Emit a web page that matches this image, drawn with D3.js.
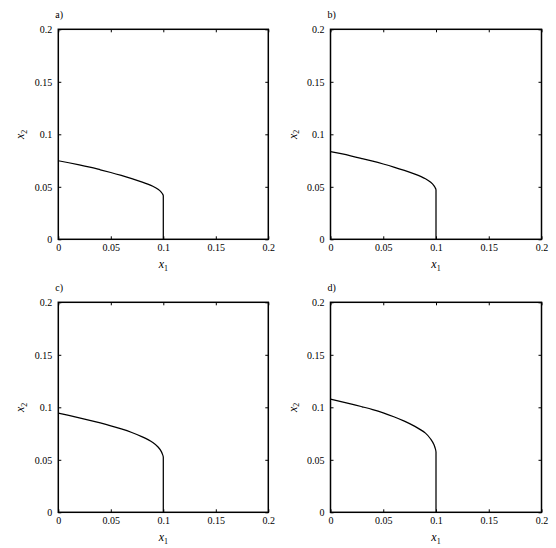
<!DOCTYPE html>
<html>
<head>
<meta charset="utf-8">
<script src="https://cdn.jsdelivr.net/npm/d3@7"></script>
<style>
  body { margin: 0; background: #fff; }
  svg { display: block; }
  text { font-family: "Liberation Serif", "DejaVu Serif", serif; fill: #000; }
</style>
</head>
<body>
<div id="chart"></div>
<script>
// data
const panelLabels = ["a)", "b)", "c)", "d)"]
const tickValues = [0, 0.05, 0.1, 0.15, 0.2]
const x1Values = [0, 0.01, 0.02, 0.03, 0.04, 0.05, 0.06, 0.07, 0.08, 0.09, 0.095, 0.098, 0.099, 0.1]
const x2A = [0.0748, 0.0729, 0.0709, 0.0687, 0.0662, 0.0636, 0.0608, 0.0578, 0.0545, 0.0505, 0.0476, 0.0450, 0.0436, 0.0415]
const x2B = [0.0835, 0.0815, 0.0793, 0.0769, 0.0744, 0.0717, 0.0688, 0.0656, 0.0620, 0.0576, 0.0543, 0.0512, 0.0495, 0.0470]
const x2C = [0.0945, 0.0923, 0.0900, 0.0876, 0.0851, 0.0824, 0.0794, 0.0760, 0.0718, 0.0665, 0.0622, 0.0580, 0.0558, 0.0525]
const x2D = [0.1078, 0.1055, 0.1031, 0.1005, 0.0978, 0.0947, 0.0910, 0.0868, 0.0818, 0.0754, 0.0697, 0.0645, 0.0617, 0.0575]
const series = [x2A, x2B, x2C, x2D]

const width = 556
const height = 548

// frame position of each panel
const layout = [
  { left: 58.3, top: 29.3, w: 210, h: 210 },
  { left: 330.5, top: 29.3, w: 211, h: 210 },
  { left: 58.3, top: 302.3, w: 210, h: 210 },
  { left: 330.5, top: 302.3, w: 211, h: 210 }
]

const svg = d3.select('#chart')
  .append('svg')
  .attr('width', width)
  .attr('height', height)

const fmt = d => String(d)

const drawPanel = function (i) {
  const p = layout[i]
  const g = svg.append('g')
    .attr('transform', 'translate(' + p.left + ',' + p.top + ')')

  const xScale = d3.scaleLinear().domain([0, 0.2]).range([0, p.w])
  const yScale = d3.scaleLinear().domain([0, 0.2]).range([p.h, 0])

  // bottom and left axes with labels, ticks pointing inward
  g.append('g')
    .attr('transform', 'translate(0,' + p.h + ')')
    .call(d3.axisBottom(xScale).tickValues(tickValues).tickFormat(fmt)
      .tickSizeInner(-3).tickSizeOuter(0).tickPadding(5))
  g.append('g')
    .call(d3.axisLeft(yScale).tickValues(tickValues).tickFormat(fmt)
      .tickSizeInner(-3).tickSizeOuter(0).tickPadding(6))
  // mirrored ticks on top and right
  g.append('g')
    .call(d3.axisTop(xScale).tickValues(tickValues).tickFormat('')
      .tickSizeInner(-3).tickSizeOuter(0))
  g.append('g')
    .attr('transform', 'translate(' + p.w + ',0)')
    .call(d3.axisRight(yScale).tickValues(tickValues).tickFormat('')
      .tickSizeInner(-3).tickSizeOuter(0))

  g.selectAll('.domain').remove()
  g.selectAll('g').attr('font-family', null)
  g.selectAll('.tick line').attr('stroke', '#000').attr('stroke-width', 1)
  g.selectAll('.tick text')
    .style('font-size', '10px')
    .attr('fill', '#000')

  // frame
  g.append('rect')
    .attr('x', 0).attr('y', 0)
    .attr('width', p.w).attr('height', p.h)
    .attr('fill', 'none')
    .attr('stroke', '#000')
    .attr('stroke-width', 1.5)

  // curve, ending in the vertical drop to x2 = 0
  // (monotone in x2, so the bend into the drop gets a vertical tangent)
  const pts = x1Values.map((x, k) => [x, series[i][k]])
  const last = pts[pts.length - 1]
  pts.push([last[0], 0])
  const line = d3.line()
    .x(d => xScale(d[0]))
    .y(d => yScale(d[1]))
    .curve(d3.curveMonotoneY)
  g.append('path')
    .datum(pts)
    .attr('d', line)
    .attr('fill', 'none')
    .attr('stroke', '#000')
    .attr('stroke-width', 1.25)

  // axis titles
  const xt = g.append('text')
    .attr('x', p.w / 2)
    .attr('y', p.h + 29)
    .attr('text-anchor', 'middle')
    .style('font-size', '12px')
  xt.append('tspan').style('font-style', 'italic').text('x')
  xt.append('tspan').attr('dy', 2.5).style('font-size', '8px').text('1')

  const yt = g.append('text')
    .attr('transform', 'translate(' + (-34) + ',' + (p.h / 2) + ') rotate(-90)')
    .attr('text-anchor', 'middle')
    .style('font-size', '12px')
  yt.append('tspan').style('font-style', 'italic').text('x')
  yt.append('tspan').attr('dy', 2.5).style('font-size', '8px').text('2')

  // panel letter
  g.append('text')
    .attr('x', -3)
    .attr('y', -11.5)
    .style('font-size', '10px')
    .text(panelLabels[i])
}

panelLabels.forEach((d, i) => drawPanel(i))
</script>
</body>
</html>
